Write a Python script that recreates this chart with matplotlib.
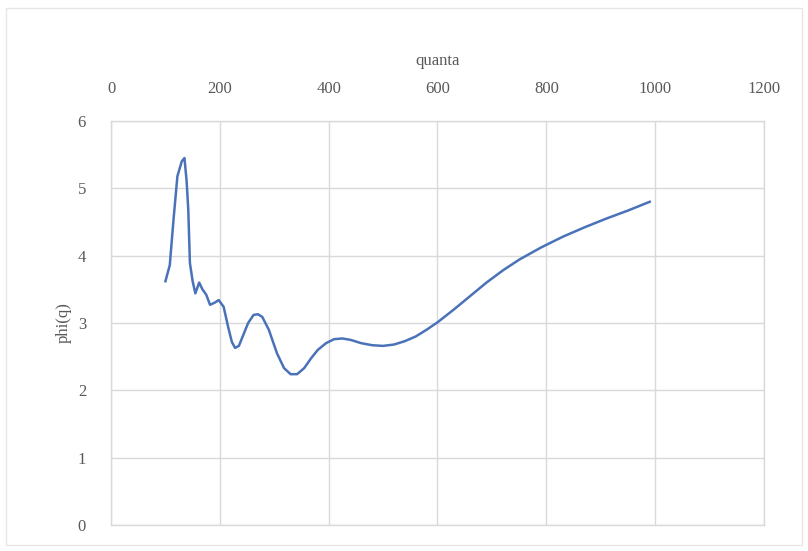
import numpy as np
import matplotlib.pyplot as plt
from matplotlib.patches import Rectangle

# data
quanta = [100, 108, 115, 122, 130, 135, 139, 142, 145, 150, 155, 162, 168, 175,
          182, 190, 198, 207, 215, 222, 228, 235, 242, 252, 262, 270, 278, 290,
          305, 318, 330, 342, 355, 368, 380, 395, 410, 425, 440, 460, 480, 500,
          520, 540, 560, 580, 600, 630, 660, 690, 720, 750, 790, 830, 870, 910,
          950, 990]
phi = [3.62, 3.86, 4.55, 5.18, 5.40, 5.45, 5.10, 4.68, 3.89, 3.62, 3.44, 3.60,
       3.50, 3.42, 3.27, 3.30, 3.34, 3.24, 2.95, 2.72, 2.63, 2.66, 2.80, 3.00,
       3.12, 3.13, 3.09, 2.90, 2.55, 2.33, 2.24, 2.24, 2.33, 2.48, 2.60, 2.70,
       2.76, 2.77, 2.75, 2.70, 2.67, 2.66, 2.68, 2.73, 2.80, 2.90, 3.01, 3.20,
       3.40, 3.60, 3.78, 3.94, 4.12, 4.28, 4.42, 4.55, 4.67, 4.80]

plt.rcParams.update({
    "font.family": ["Liberation Serif", "DejaVu Serif"],
    "font.size": 12,
    "text.color": "#595959",
})

grid_c = "#d9d9d9"

fig = plt.figure(figsize=(8.08, 5.51), dpi=100)
ax = fig.add_axes([0.1374, 0.0472, 0.8081, 0.7332])

ax.plot(quanta, phi, color="#4a72b8", linewidth=1.8, solid_joinstyle="round")

ax.set_xlim(0, 1200)
ax.set_ylim(0, 6)
ax.set_xticks(np.arange(0, 1201, 200))
ax.set_yticks(np.arange(0, 7, 1))
ax.xaxis.tick_top()
ax.xaxis.set_label_position("top")
ax.set_xlabel("quanta", fontsize=12, color="#595959", labelpad=12)
ax.set_ylabel("phi(q)", fontsize=12, color="#595959", labelpad=4)
ax.tick_params(axis="both", length=0, labelsize=12, labelcolor="#595959")
ax.tick_params(axis="x", pad=17)
ax.tick_params(axis="y", pad=18)

ax.grid(True, color=grid_c, linewidth=1.0)
ax.set_axisbelow(True)
for s in ax.spines.values():
    s.set_color(grid_c)
    s.set_linewidth(1.0)

# chart area border
fig.patches.append(Rectangle((0.008, 0.01), 0.984, 0.975, transform=fig.transFigure,
                             fill=False, edgecolor="#e6e6e6", linewidth=1.0))

fig.savefig("out.png", dpi=100)
